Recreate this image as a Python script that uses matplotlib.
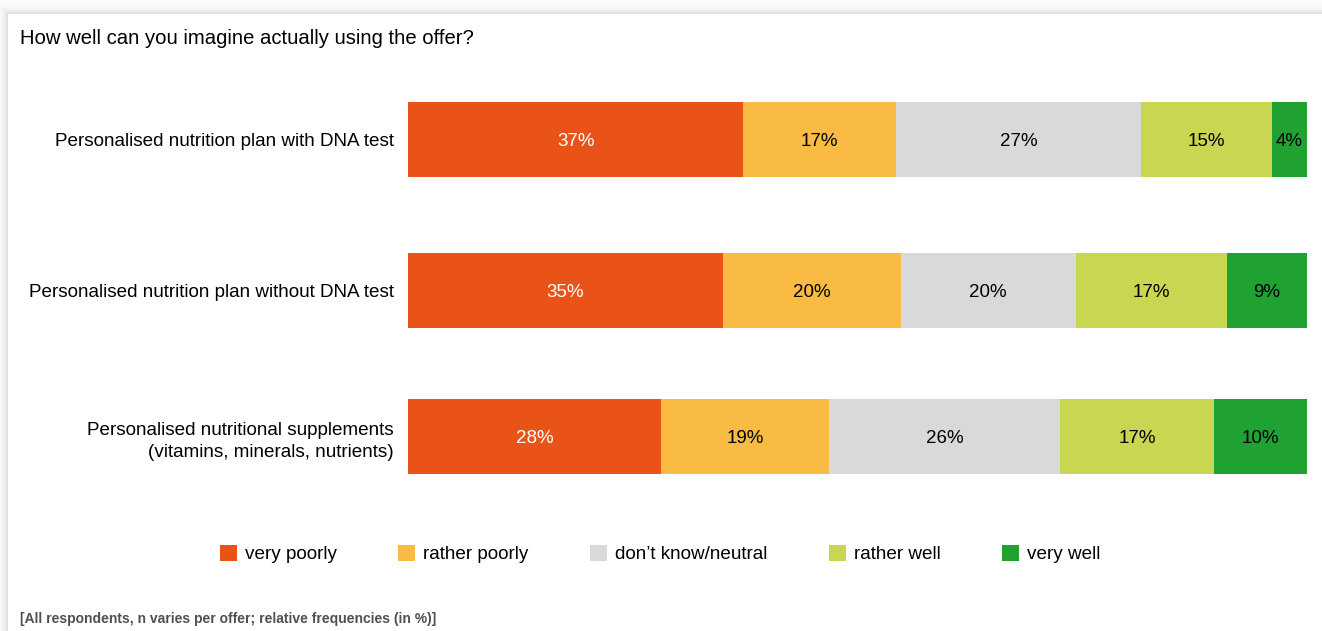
import numpy as np
import matplotlib.pyplot as plt
from matplotlib.patches import Patch

plt.rcParams['font.family'] = ['Liberation Sans', 'DejaVu Sans']

# data (shares in %; labels show them rounded)
categories = ['Personalised nutrition plan with DNA test',
              'Personalised nutrition plan without DNA test',
              'Personalised nutritional supplements\n(vitamins, minerals, nutrients)']
answers = ['very poorly', 'rather poorly', 'don\u2019t know/neutral', 'rather well', 'very well']
very_poorly = [37.3, 35.0, 28.1]
rather_poorly = [17.0, 19.8, 18.7]
neutral = [27.2, 19.5, 25.6]
rather_well = [14.6, 16.8, 17.2]
very_well = [3.9, 8.9, 10.3]

colors = ['#E95318', '#F9BB43', '#D8D9DA', '#C9D651', '#20A232']
text_colors = ['white', 'black', 'black', 'black', 'black']

W, H = 1322, 631
fig = plt.figure(figsize=(W / 100, H / 100), dpi=100)

# card with a soft shadow on top and left
bg = fig.add_axes([0, 0, 1, 1], zorder=-10)
yy, xx = np.mgrid[0:H, 0:W]
d = np.maximum(np.clip(14 - yy, 0, None), np.clip(8 - xx, 0, None)).astype(float)
shade = np.where(d > 0, 0.985 - 0.11 * np.clip(1 - (d - 1) / 12, 0, 1) ** 2.5, 1.0)
bg.imshow(shade, cmap='gray', vmin=0, vmax=1, aspect='auto', interpolation='bilinear')
bg.axis('off')

series = [very_poorly, rather_poorly, neutral, rather_well, very_well]
totals = np.sum(series, axis=0)
y_pos = [0, 1, 1.967]

ax = fig.add_axes([408 / W, 1 - 474.25 / H, 899 / W, 372.5 / H])
left = np.zeros(len(categories))
for vals, col, tc, name in zip(series, colors, text_colors, answers):
    w = np.array(vals) / totals * 100
    ax.barh(y_pos, w, left=left, height=0.495, color=col, linewidth=0, label=name)
    for yi, li, wi, v in zip(y_pos, left, w, vals):
        ax.text(li + wi / 2, yi + 0.01, f'{v:.0f}%', ha='center', va='center', color=tc, fontsize=13.5)
    left += w

ax.set_xlim(0, 100)
ax.set_ylim(2.217, -0.25)
ax.set_yticks(y_pos)
ax.set_yticklabels(categories, fontsize=13.6, ha='right', multialignment='right', linespacing=1.45)
ax.tick_params(axis='y', length=0, pad=10)
ax.set_xticks([])
for s in ax.spines.values():
    s.set_visible(False)
ax.patch.set_alpha(0)

fig.text(20 / W, 1 - 39 / H, 'How well can you imagine actually using the offer?',
         fontsize=14.6, ha='left', va='center')

handles = [Patch(facecolor=c, edgecolor='none') for c in colors]
fig.legend(handles, answers, loc='center', bbox_to_anchor=(660 / W, 1 - 554 / H), ncol=5,
           frameon=False, fontsize=13.6, handlelength=0.9, handleheight=0.9,
           handletextpad=0.42, columnspacing=3.25)

fig.text(20 / W, 1 - 619 / H, '[All respondents, n varies per offer; relative frequencies (in %)]',
         fontsize=10, fontweight='bold', color='#505050', ha='left', va='center')

fig.savefig('out.png', dpi=100)
